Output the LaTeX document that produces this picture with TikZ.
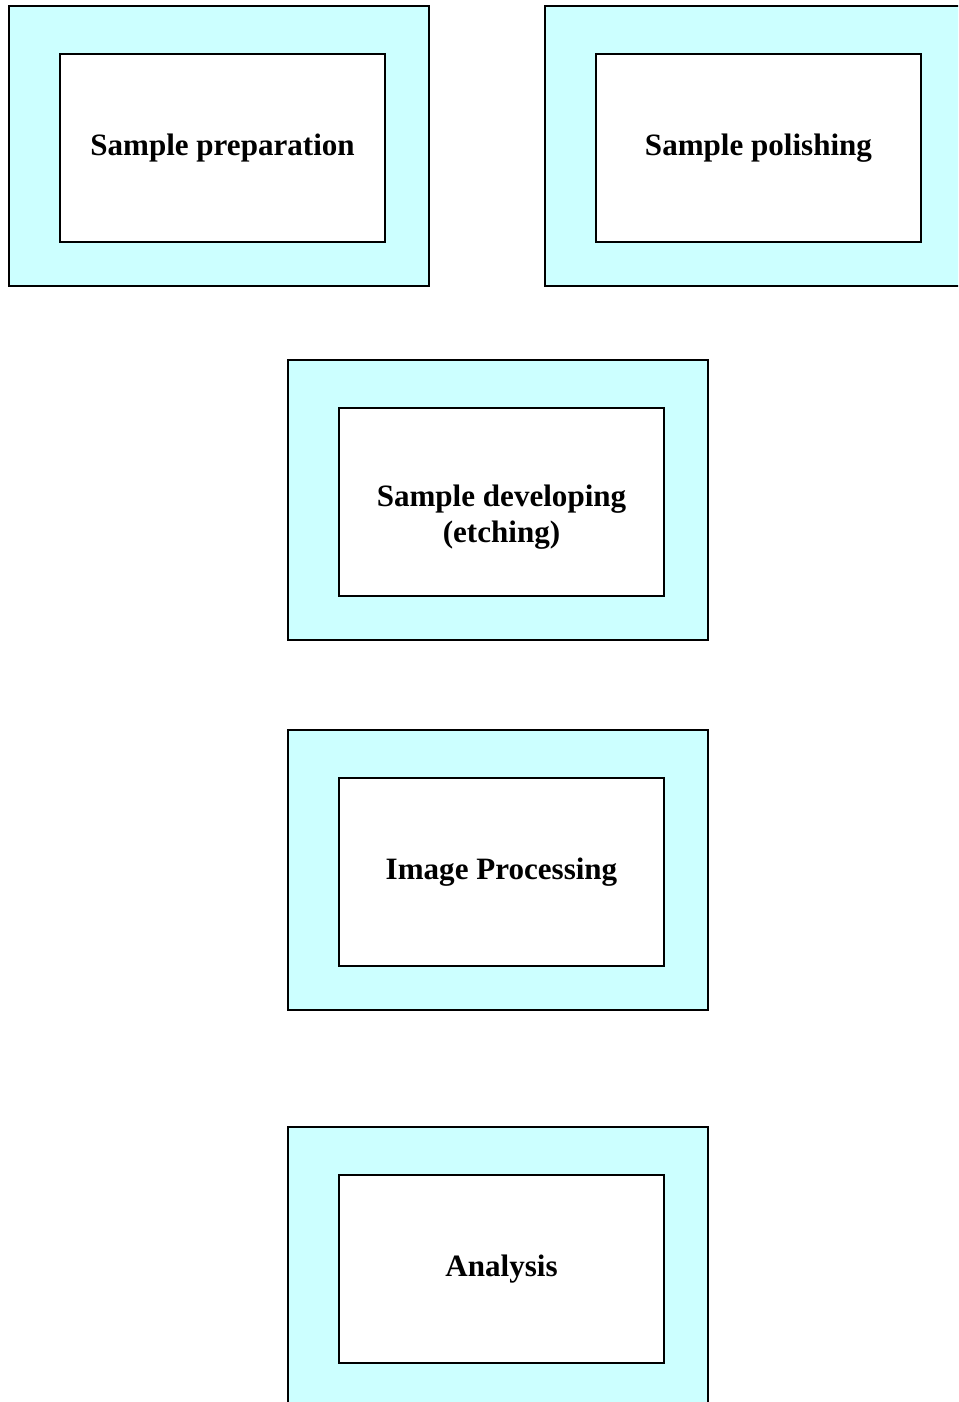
\documentclass[tikz,border=0pt]{standalone}
\usepackage{fontspec}
\setmainfont{Liberation Serif}
\usepackage{tikz}
\usetikzlibrary{positioning}
\definecolor{marco}{HTML}{CCFFFF}
\definecolor{tinta}{HTML}{000000}
\tikzset{
  marcoext/.style={rectangle,draw=tinta,fill=marco,line width=1.2pt,inner sep=0pt,minimum width=315pt,minimum height=210pt},
  caja/.style={rectangle,draw=tinta,fill=white,line width=1.2pt,inner sep=0pt,minimum width=243.75pt,minimum height=141pt,align=center,font=\fontsize{23.3}{27}\selectfont\bfseries},
  rotulo/.style={inner sep=0pt,align=center,font=\fontsize{23.3}{27}\selectfont\bfseries},
}
\begin{document}
\begin{tikzpicture}[x=0.75pt,y=-0.75pt]
\useasboundingbox (0,0) rectangle (958,1402);
\clip (0,0) rectangle (958,1402);
\coordinate (m1) at (219,146);
\coordinate (m2) at (755,146);
\coordinate (m3) at (498,500);
\coordinate (m4) at (498,870);
\coordinate (m5) at (498,1267);
\node[marcoext] (e1) at (m1) {};
\node[marcoext] (e2) at (m2) {};
\node[marcoext] (e3) at (m3) {};
\node[marcoext] (e4) at (m4) {};
\node[marcoext] (e5) at (m5) {};
\node[caja] (preparacion) at (222.5,148) {Sample preparation};
\node[caja] (pulido) at (758.5,148) {Sample polishing};
\node[caja] (revelado) at (501.5,502) {};
\node[rotulo] (revelado texto) at (501.5,517) {Sample developing\\(etching)};
\node[caja] (imagen) at (501.5,872) {Image Processing};
\node[caja] (analisis) at (501.5,1269) {Analysis};
\end{tikzpicture}
\end{document}
